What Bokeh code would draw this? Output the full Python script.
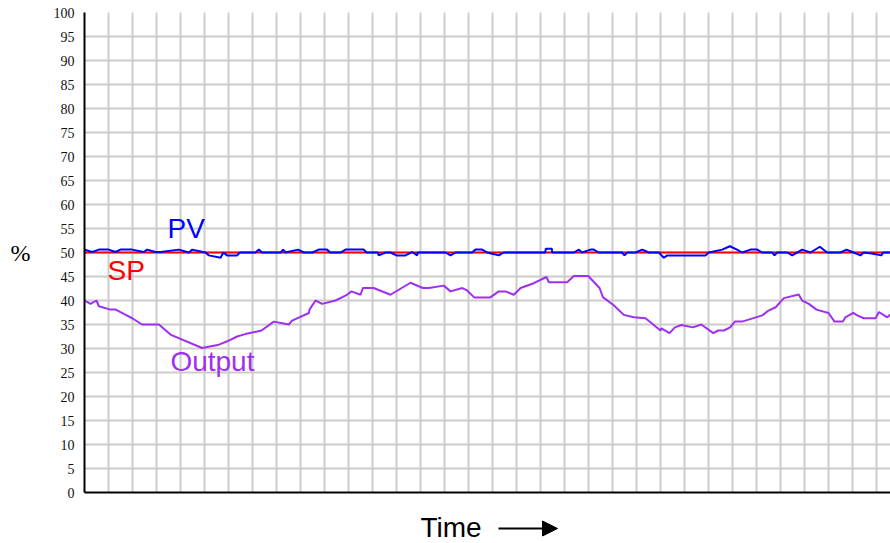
from bokeh.plotting import figure
from bokeh.layouts import column
from bokeh.models import Label, Arrow, NormalHead, FixedTicker, Range1d
from bokeh.embed import file_html
from bokeh.resources import INLINE

# Time axis in grid divisions, values in percent
sp_t = [0, 33.58]
sp_v = [50, 50]

pv_t = [0, 0.32, 0.6, 1.01, 1.29, 1.5, 1.99, 2.47, 2.61, 2.96,
        3.17, 3.93, 4.35, 4.49, 5.04, 5.18, 5.67, 5.78, 5.94, 6.36,
        6.47, 7.125, 7.26, 7.4, 8.17, 8.28, 8.375, 8.9, 9.14, 9.49,
        9.76, 10.1, 10.25, 10.67, 10.875, 11.64, 11.75, 12.22, 12.26, 12.54,
        12.75, 13.0, 13.375, 13.65, 13.86, 13.89, 15.04, 15.25, 15.46, 16.15,
        16.29, 16.57, 16.78, 17.26, 17.47, 19.2, 19.22, 19.47, 19.49, 20.39,
        20.6, 20.73, 21.08, 21.22, 21.43, 22.4, 22.5, 22.61, 22.96, 23.24,
        23.51, 23.93, 24.14, 24.28, 25.875, 26.01, 26.57, 26.89, 27.19, 27.4,
        27.75, 28.03, 28.24, 28.65, 28.75, 28.86, 29.28, 29.49, 29.9, 30.25,
        30.64, 30.94, 31.5, 31.75, 32.05, 32.33, 32.47, 32.8, 33.2, 33.28,
        33.58]
pv_v = [50.6, 50.1, 50.6, 50.6, 50.1, 50.6, 50.6, 50.1, 50.6, 50.1,
        50.1, 50.6, 50.0, 50.6, 50.0, 49.4, 48.9, 50.0, 49.4, 49.4,
        50.0, 50.0, 50.6, 50.0, 50.0, 50.6, 50.0, 50.6, 50.0, 50.0,
        50.6, 50.6, 50.0, 50.0, 50.6, 50.6, 50.0, 50.0, 49.4, 50.0,
        50.0, 49.4, 49.4, 50.1, 49.4, 50.0, 50.0, 49.4, 50.0, 50.0,
        50.6, 50.6, 50.0, 49.4, 50.0, 50.0, 50.8, 50.8, 50.0, 50.0,
        50.6, 50.0, 50.6, 50.6, 50.0, 50.0, 49.4, 50.0, 50.0, 50.6,
        50.0, 50.0, 48.9, 49.4, 49.4, 50.0, 50.6, 51.3, 50.6, 50.0,
        50.6, 50.6, 50.0, 50.0, 49.4, 50.0, 50.0, 49.4, 50.6, 50.0,
        51.2, 50.0, 50.0, 50.6, 50.0, 49.4, 50.0, 49.8, 49.4, 50.0,
        50.0]

out_t = [0, 0.25, 0.5, 0.6, 1.08, 1.3, 1.64, 1.99, 2.4, 3.1,
         3.58, 4.9, 5.6, 5.95, 6.36, 6.7, 7.375, 7.89, 8.51, 8.65,
         9.35, 9.375, 9.625, 9.9, 10.46, 10.875, 11.125, 11.5, 11.6, 12.05,
         12.75, 13.58, 14.1, 14.35, 14.97, 15.25, 15.74, 15.94, 16.25, 16.89,
         17.26, 17.54, 17.89, 18.17, 18.72, 19.25, 19.35, 20.11, 20.39, 20.99,
         21.46, 21.6, 22.05, 22.47, 22.89, 23.375, 24.0, 24.04, 24.375, 24.6,
         24.875, 25.35, 25.7, 26.2, 26.4, 26.64, 26.9, 27.1, 27.4, 28.24,
         28.5, 28.8, 29.14, 29.76, 29.9, 30.18, 30.5, 31.0, 31.25, 31.6,
         31.7, 32.03, 32.2, 32.47, 32.96, 33.1, 33.45, 33.58]
out_v = [40, 39.3, 40, 38.8, 38.1, 38.1, 37.2, 36.3, 35, 35,
         32.9, 30.1, 30.8, 31.5, 32.5, 33.0, 33.75, 35.6, 35, 35.8,
         37.4, 38.1, 40, 39.3, 40, 41.0, 41.9, 41.2, 42.6, 42.6,
         41.2, 43.7, 42.6, 42.6, 43.1, 41.9, 42.6, 42.1, 40.6, 40.6,
         41.9, 41.9, 41.2, 42.6, 43.6, 44.9, 43.8, 43.8, 45.1, 45.1,
         42.6, 40.7, 39, 37.0, 36.5, 36.3, 33.75, 34.2, 33.2, 34.4,
         34.9, 34.4, 35, 33.2, 33.75, 33.75, 34.4, 35.6, 35.6, 36.9,
         37.9, 38.6, 40.5, 41.25, 40, 39.3, 38.1, 37.4, 35.6, 35.6,
         36.5, 37.4, 36.9, 36.3, 36.3, 37.6, 36.5, 37.1]

x_ticks = list(range(0, 34))
y_ticks = list(range(0, 101, 5))

p = figure(width=890, height=510, output_backend="svg", toolbar_location=None,
           x_range=Range1d(0, 806 / 24), y_range=Range1d(0, 100),
           min_border_left=84, min_border_right=0, min_border_top=12, min_border_bottom=18)
p.outline_line_color = None
p.background_fill_color = "white"
p.border_fill_color = "white"

# x axis: line only, no labels; vertical grid lines every division
p.xaxis.ticker = FixedTicker(ticks=[])
p.xgrid.ticker = FixedTicker(ticks=x_ticks)
p.yaxis.ticker = FixedTicker(ticks=y_ticks)
p.xaxis.major_label_standoff = 0
for ax in (p.xaxis, p.yaxis):
    ax.major_tick_in = 0
    ax.major_tick_out = 0
    ax.minor_tick_in = 0
    ax.minor_tick_out = 0
    ax.axis_line_width = 2
    ax.axis_line_color = "black"
p.yaxis.major_label_text_font = "Liberation Serif"
p.yaxis.major_label_text_font_size = "14px"
p.yaxis.major_label_text_color = "#111111"
p.yaxis.major_label_standoff = 10
p.yaxis.axis_label = "%"
p.yaxis.axis_label_orientation = "horizontal"
p.yaxis.axis_label_text_font = "Liberation Serif"
p.yaxis.axis_label_text_font_size = "24px"
p.yaxis.axis_label_text_font_style = "normal"
p.yaxis.axis_label_text_color = "black"
p.yaxis.axis_label_standoff = 20

p.grid.grid_line_color = "#cccccc"
p.grid.grid_line_width = 2

p.line(sp_t, sp_v, line_color="#ff0000", line_width=2)
p.line(pv_t, pv_v, line_color="#0000ff", line_width=2)
p.line(out_t, out_v, line_color="#a030f0", line_width=2)

def lab(fig, x, y, text, color, font="Liberation Sans", size="28px"):
    fig.add_layout(Label(x=x, y=y, text=text, text_color=color, text_font=font,
                         text_font_size=size, text_baseline="alphabetic"))

lab(p, 3.46, 55.0, "PV", "#0000ff")
lab(p, 0.96, 46.25, "SP", "#ff0000")
lab(p, 3.58, 27.3, "Output", "#a030f0")

# strip below the chart holding the "Time" caption and its arrow (page pixel units)
q = figure(width=890, height=33, output_backend="svg", toolbar_location=None,
           x_range=Range1d(84, 890), y_range=Range1d(0, 33),
           x_axis_type=None, y_axis_type=None,
           min_border_left=84, min_border_right=0, min_border_top=0, min_border_bottom=0)
q.outline_line_color = None
q.grid.visible = False
q.background_fill_color = "white"
q.border_fill_color = "white"

lab(q, 420, 16, "Time", "black")
q.add_layout(Arrow(end=NormalHead(size=15, fill_color="black", line_color="black"),
                   x_start=498, y_start=15, x_end=557, y_end=15,
                   line_width=2, line_color="black"))

layout = column(p, q, spacing=0)
open("out.html", "w").write(file_html(layout, INLINE))
